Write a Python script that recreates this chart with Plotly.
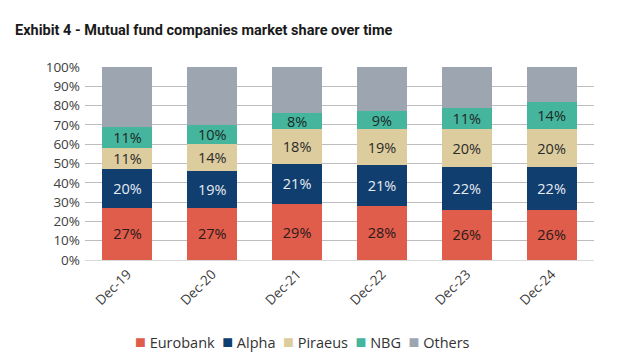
import plotly.graph_objects as go

categories = ["Dec-19", "Dec-20", "Dec-21", "Dec-22", "Dec-23", "Dec-24"]
eurobank = [27, 27, 29, 28, 26, 26]
alpha = [20, 19, 21, 21, 22, 22]
piraeus = [11, 14, 18, 19, 20, 20]
nbg = [11, 10, 8, 9, 11, 14]
others = [31, 30, 24, 23, 21, 18]

series = [
    ("Eurobank", eurobank, "#E05C4B", "#2a1a1a", True),
    ("Alpha", alpha, "#103E6F", "#E8ECF2", True),
    ("Piraeus", piraeus, "#DDCC9D", "#2a2a2a", True),
    ("NBG", nbg, "#46B59E", "#1a2a26", True),
    ("Others", others, "#9DA6B0", "#333333", False),
]

fig = go.Figure()
for name, vals, color, tcolor, show in series:
    fig.add_trace(go.Bar(
        x=categories, y=[v / 100 for v in vals], name=name,
        marker=dict(color=color, line=dict(width=0)),
        text=[f"{v}%" for v in vals] if show else None,
        texttemplate="%{text}" if show else None,
        textposition="inside" if show else "none",
        insidetextanchor="middle",
        textangle=0,
        constraintext="none",
        insidetextfont=dict(family="Open Sans, sans-serif", size=14.5, color=tcolor),
        hoverinfo="skip",
        showlegend=False,
    ))

# legend drawn as text line (compact, like the reference)
legend_html = "&nbsp;&nbsp;".join(
    f"<span style='color:{c};font-size:18px'>■</span> {n}" for n, _, c, _, _ in series
)
fig.add_annotation(
    text=legend_html, xref="paper", yref="paper",
    x=(302 - 84.5) / 510, y=-(341 - 260) / 193,
    xanchor="center", yanchor="middle", showarrow=False,
    font=dict(family="Open Sans, sans-serif", size=14.5, color="#333333"),
)

fig.update_layout(
    barmode="stack",
    bargap=0.41,
    width=620, height=354,
    margin=dict(l=84.5, r=25.5, t=67, b=94),
    paper_bgcolor="white", plot_bgcolor="white",
    title=dict(text="<b>Exhibit 4 - Mutual fund companies market share over time</b>",
               x=15 / 620, xref="container", xanchor="left",
               y=1 - 30 / 354, yref="container", yanchor="middle",
               font=dict(family="Roboto, sans-serif", size=14.5, color="#1a1a1a")),
    showlegend=False,
    font=dict(family="Open Sans, sans-serif"),
)
fig.update_xaxes(tickangle=-45, tickfont=dict(size=13.5, color="#404040"),
                 showline=True, linecolor="#D9D9D9", linewidth=1, ticks="")
fig.update_yaxes(range=[0, 1], dtick=0.1, tickformat=".0%",
                 tickfont=dict(size=13.5, color="#404040"),
                 showgrid=True, gridcolor="#BDBDBD", gridwidth=1.3,
                 zeroline=False, ticks="", ticklabelstandoff=4)

fig.write_html("out.html")
